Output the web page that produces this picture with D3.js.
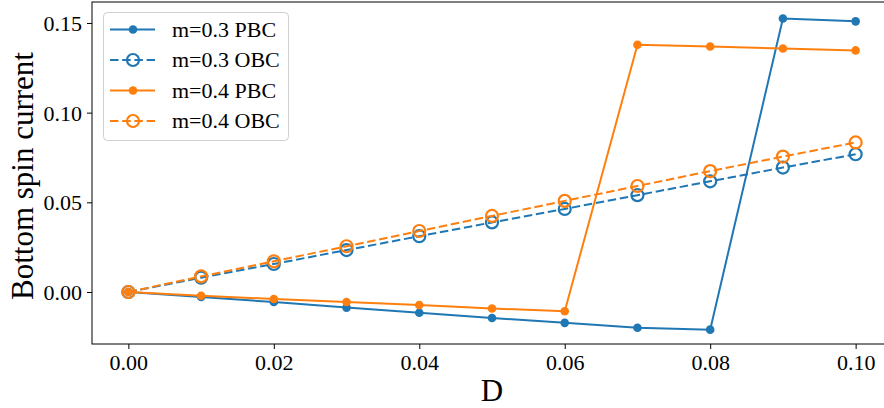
<!DOCTYPE html>
<html>
<head>
<meta charset="utf-8">
<script src="https://cdn.jsdelivr.net/npm/d3@7/dist/d3.min.js"></script>
<style>
  html, body { margin: 0; padding: 0; background: #fff; }
  svg { display: block; }
  text { font-family: "Liberation Serif", "DejaVu Serif", serif; }
</style>
</head>
<body>
<svg id="chart" width="884" height="408"></svg>
<script>
const D = [0.00, 0.01, 0.02, 0.03, 0.04, 0.05, 0.06, 0.07, 0.08, 0.09, 0.10];
const m03PBC = [0.0, -0.0028, -0.0056, -0.0087, -0.0116, -0.0145, -0.0172, -0.0199, -0.0210, 0.1525, 0.1509];
const m03OBC = [0.0, 0.0080, 0.0156, 0.0234, 0.0311, 0.0388, 0.0463, 0.0540, 0.0617, 0.0694, 0.0768];
const m04PBC = [0.0, -0.0021, -0.0039, -0.0056, -0.0073, -0.0092, -0.0107, 0.1379, 0.1369, 0.1358, 0.1347];
const m04OBC = [0.0, 0.0087, 0.0171, 0.0255, 0.0340, 0.0424, 0.0508, 0.0591, 0.0674, 0.0755, 0.0834];
const xTicks = [0.00, 0.02, 0.04, 0.06, 0.08, 0.10];
const yTicks = [0.00, 0.05, 0.10, 0.15];
const seriesNames = ["m=0.3 PBC", "m=0.3 OBC", "m=0.4 PBC", "m=0.4 OBC"];

const series = [
  { name: seriesNames[0], values: m03PBC, color: "#1f77b4", dashed: false, open: false },
  { name: seriesNames[1], values: m03OBC, color: "#1f77b4", dashed: true, open: true },
  { name: seriesNames[2], values: m04PBC, color: "#ff7f0e", dashed: false, open: false },
  { name: seriesNames[3], values: m04OBC, color: "#ff7f0e", dashed: true, open: true }
];

const svg = d3.select("#chart");
const pL = 92, pT = 2, pR = 892, pB = 344;

const x = d3.scaleLinear().domain([-0.005, 0.105]).range([pL, pR]);
const y = d3.scaleLinear().domain([-0.029, 0.1617]).range([pB, pT]);

svg.append("defs").append("clipPath").attr("id", "plotclip")
  .append("rect").attr("x", pL).attr("y", pT).attr("width", pR - pL).attr("height", pB - pT);

const plot = svg.append("g").attr("clip-path", "url(#plotclip)");

const line = d3.line().x((d, i) => x(D[i])).y(d => y(d));

series.forEach(s => {
  plot.append("path")
    .datum(s.values)
    .attr("d", line)
    .attr("fill", "none")
    .attr("stroke", s.color)
    .attr("stroke-width", 2)
    .attr("stroke-dasharray", s.dashed ? "8.5,3.7" : null);
  plot.selectAll(null)
    .data(s.values)
    .enter().append("circle")
    .attr("cx", (d, i) => x(D[i]))
    .attr("cy", d => y(d))
    .attr("r", s.open ? 6 : 4.3)
    .attr("fill", s.open ? "none" : s.color)
    .attr("stroke", s.color)
    .attr("stroke-width", s.open ? 2.2 : 0);
});

// axes
const xAxis = d3.axisBottom(x).tickValues(xTicks).tickFormat(d3.format(".2f")).tickSizeInner(5).tickSizeOuter(0);
const yAxis = d3.axisLeft(y).tickValues(yTicks).tickFormat(d3.format(".2f")).tickSizeInner(5).tickSizeOuter(0).tickPadding(5);

const gx = svg.append("g").attr("transform", `translate(0,${pB})`).call(xAxis);
const gy = svg.append("g").attr("transform", `translate(${pL},0)`).call(yAxis);
[gx, gy].forEach(g => {
  g.select(".domain").remove();
  g.selectAll(".tick line").attr("stroke", "#000").attr("stroke-width", 1);
  g.selectAll(".tick text").attr("fill", "#000").style("font-size", "22px")
    .style("font-family", "'Liberation Serif', serif");
});
gx.selectAll(".tick text").attr("y", 26).attr("dy", 0);
gy.selectAll(".tick text").attr("x", -10).attr("dy", "0.34em");

// spines
svg.append("rect").attr("x", pL).attr("y", pT).attr("width", pR - pL).attr("height", pB - pT)
  .attr("fill", "none").attr("stroke", "#000").attr("stroke-width", 1);

// labels
svg.append("text").attr("x", 492).attr("y", 401)
  .attr("text-anchor", "middle").style("font-size", "31px").text("D");
svg.append("text")
  .attr("transform", `translate(33,176) rotate(-90)`)
  .attr("text-anchor", "middle")
  .style("font-size", "31px").text("Bottom spin current");

// legend
const lg = svg.append("g");
lg.append("rect").attr("x", 103.5).attr("y", 12.5).attr("width", 185).attr("height", 128)
  .attr("rx", 4).attr("fill", "#fff").attr("fill-opacity", 0.8)
  .attr("stroke", "#d0d0d0").attr("stroke-width", 1);
series.forEach((s, i) => {
  const yy = 29.5 + i * 30.5;
  lg.append("line").attr("x1", 110).attr("x2", 155).attr("y1", yy).attr("y2", yy)
    .attr("stroke", s.color).attr("stroke-width", 2)
    .attr("stroke-dasharray", s.dashed ? "8.5,3.7" : null);
  lg.append("circle").attr("cx", 133).attr("cy", yy).attr("r", s.open ? 6 : 4.3)
    .attr("fill", s.open ? "none" : s.color).attr("stroke", s.color)
    .attr("stroke-width", s.open ? 2.2 : 0);
  lg.append("text").attr("x", 172).attr("y", yy).attr("dy", "0.34em")
    .style("font-size", "22px").text(s.name);
});
</script>
</body>
</html>
